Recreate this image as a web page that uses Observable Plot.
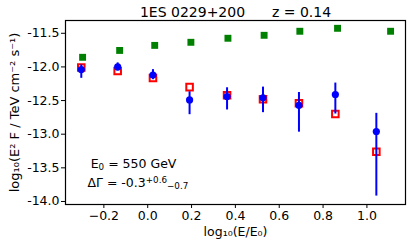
<!DOCTYPE html>
<html>
<head>
<meta charset="utf-8">
<script src="https://cdn.jsdelivr.net/npm/d3@7"></script>
<script src="https://cdn.jsdelivr.net/npm/@observablehq/plot@0.6"></script>
<style>
  html, body { margin: 0; padding: 0; background: #fff; }
  svg { font-family: "DejaVu Sans", sans-serif; }
</style>
</head>
<body>
<div id="chart"></div>
<script>
// ---- data ----
const titleSource = "1ES 0229+200";
const titleRedshift = "z = 0.14";
const xTicks = [-0.2, 0.0, 0.2, 0.4, 0.6, 0.8, 1.0];
const yTicks = [-11.5, -12.0, -12.5, -13.0, -13.5, -14.0];

const xGreen = [-0.297, -0.128, 0.032, 0.197, 0.366, 0.531, 0.694, 0.866, 1.108];
const greenY = [-11.857, -11.755, -11.68, -11.634, -11.574, -11.53, -11.47, -11.426, -11.47];

const xPts   = [-0.303, -0.137, 0.024, 0.191, 0.362, 0.526, 0.690, 0.856, 1.043];
const redY   = [-12.01, -12.06, -12.165, -12.30, -12.42, -12.48, -12.54, -12.70, -13.26];
const blueY  = [-12.04, -12.00, -12.12, -12.49, -12.44, -12.46, -12.57, -12.41, -12.96];
const blueLo = [-12.17, -12.06, -12.19, -12.71, -12.64, -12.68, -12.97, -12.70, -13.92];
const blueHi = [-11.97, -11.94, -12.04, -12.37, -12.31, -12.30, -12.38, -12.24, -12.69];

const annE0 = "E0 = 550 GeV";
const annGamma = "ΔΓ = -0.3";
const annGammaUp = "+0.6";
const annGammaDn = "−0.7";

// ---- tables ----
const green = xGreen.map((x, i) => ({x, y: greenY[i]}));
const red = xPts.map((x, i) => ({x, y: redY[i]}));
const blue = xPts.map((x, i) => ({x, y: blueY[i], lo: blueLo[i], hi: blueHi[i]}));
const notes = [
  {x: -0.26, y: -13.44, text: annE0},
  {x: -0.275, y: -13.72, text: annGamma}
];

const svg = Plot.plot({
  width: 415,
  height: 247,
  marginLeft: 65,
  marginRight: 10,
  marginTop: 20,
  marginBottom: 43,
  style: {fontFamily: "DejaVu Sans", fontSize: "12px", background: "white", color: "black"},
  x: {domain: [-0.375, 1.176]},
  y: {domain: [-14.045, -11.31]},
  marks: [
    Plot.frame({stroke: "black", strokeWidth: 1.2}),
    Plot.axisX({ticks: xTicks, tickFormat: d3.format(".1f"), tickSize: 4, tickPadding: 3,
      fontSize: 12.5, label: null}),
    Plot.axisY({ticks: yTicks, tickFormat: d => d.toFixed(1), tickSize: 4, tickPadding: 2,
      fontSize: 12.5, label: null}),
    Plot.text(["log₁₀(E/E₀)"], {frameAnchor: "bottom", dy: 31, fontSize: 12.5, fill: "black"}),
    Plot.text(["log₁₀(E² F / TeV cm⁻² s⁻¹)"], {frameAnchor: "left", textAnchor: "middle", dx: -51, rotate: -90, fontSize: 13, fill: "black"}),
    Plot.dot(green, {x: "x", y: "y", symbol: "square", r: 3.9, fill: "#008000", stroke: "none"}),
    Plot.dot(red, {x: "x", y: "y", symbol: "square", r: 3.7, fill: "none", stroke: "#ff0000", strokeWidth: 2}),
    Plot.ruleX(blue, {x: "x", y1: "lo", y2: "hi", stroke: "#0000ff", strokeWidth: 2}),
    Plot.dot(blue, {x: "x", y: "y", r: 3.6, fill: "#0000ff", stroke: "none"}),
    Plot.text(notes, {x: "x", y: "y", text: "text", textAnchor: "start", fontSize: 12.5, fill: "black"}),
    Plot.text([titleSource], {frameAnchor: "top", lineAnchor: "bottom", dx: -43, dy: -4, fontSize: 14, fill: "black"}),
    Plot.text([titleRedshift], {frameAnchor: "top", lineAnchor: "bottom", dx: 66, dy: -4, fontSize: 14, fill: "black"})
  ]
});

// mathtext-like sub/superscripts in the annotation
d3.select(svg).selectAll("text").filter(function () { return this.textContent === annE0; })
  .each(function () {
    const t = d3.select(this);
    t.text(null);
    t.append("tspan").text("E");
    t.append("tspan").attr("font-size", "0.7em").attr("dy", "0.22em").text("0");
    t.append("tspan").attr("dy", "-0.154em").text(" = 550 GeV");
  });
d3.select(svg).selectAll("text").filter(function () { return this.textContent === annGamma; })
  .each(function () {
    const t = d3.select(this);
    t.append("tspan").attr("font-size", "0.7em").attr("dy", "-0.45em").text(annGammaUp);
    t.append("tspan").attr("font-size", "0.7em").attr("dy", "0.75em").text(annGammaDn);
  });

document.getElementById("chart").appendChild(svg);
</script>
</body>
</html>
